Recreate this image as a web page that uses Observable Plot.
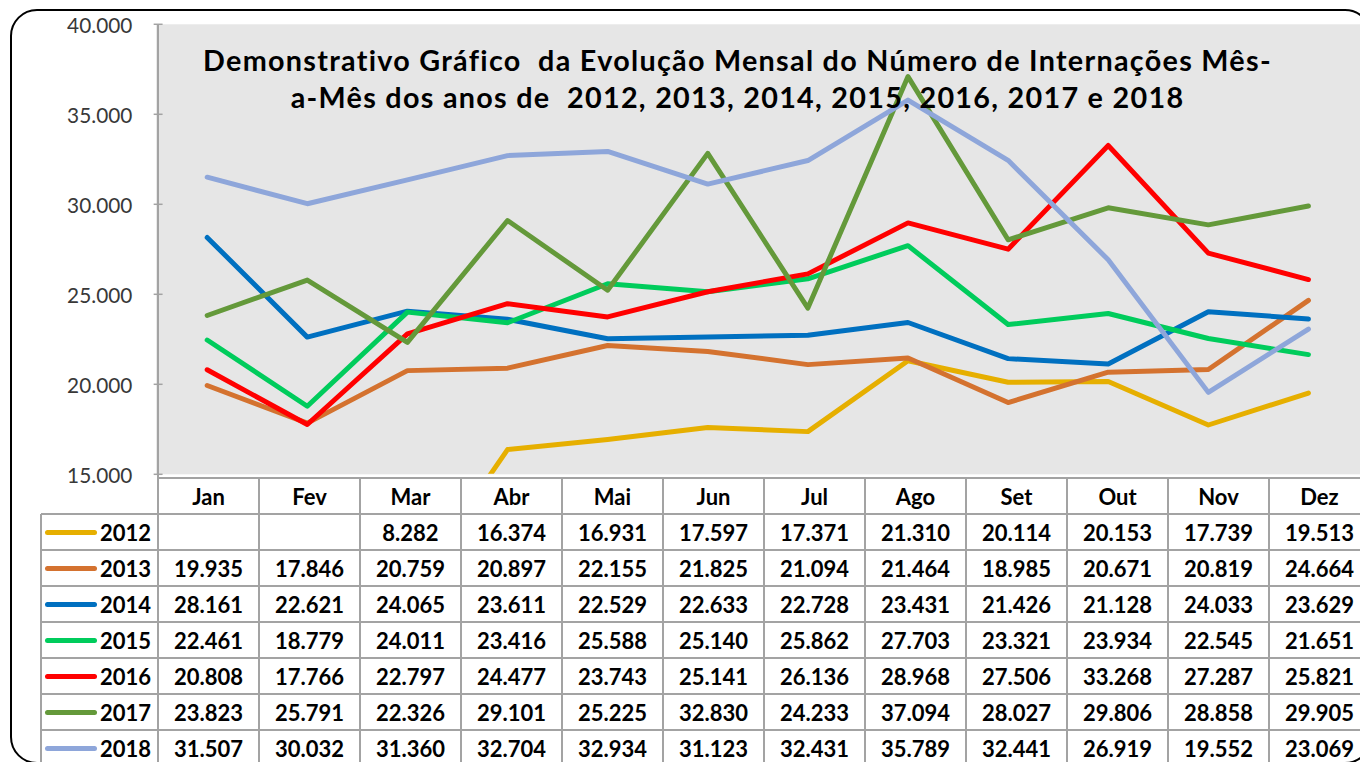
<!DOCTYPE html>
<html>
<head>
<meta charset="utf-8">
<script src="https://cdn.jsdelivr.net/npm/d3@7"></script>
<script src="https://cdn.jsdelivr.net/npm/@observablehq/plot@0.6"></script>
<style>
  html, body { margin: 0; padding: 0; background: #fff; overflow: hidden; }
  #wrap { position: relative; width: 1360px; height: 762px; overflow: hidden; font-family: Lato, "Noto Sans", sans-serif; }
  #border { position: absolute; left: 10px; top: 9px; width: 1362px; height: 755px; border: 2px solid #000; border-radius: 27px; box-sizing: border-box; pointer-events: none; }
  .hl, .vl { position: absolute; background: #a3a3a3; }
  .cell { position: absolute; display: flex; align-items: center; justify-content: center; font-weight: 700; font-size: 22px; color: #000; }
  .yr { position: absolute; display: flex; align-items: center; font-weight: 700; font-size: 22px; color: #000; }
  .sw { position: absolute; height: 5px; border-radius: 3px; }
</style>
</head>
<body>
<div id="wrap"><div id="border"></div></div>
<script>
const months = ["Jan","Fev","Mar","Abr","Mai","Jun","Jul","Ago","Set","Out","Nov","Dez"];
const years = ["2012","2013","2014","2015","2016","2017","2018"];
const colors = ["#E6AF00","#D4722F","#0070C0","#00CC5C","#FF0000","#64993A","#8EA6DA"];
const v2012 = [null,null,8282,16374,16931,17597,17371,21310,20114,20153,17739,19513];
const v2013 = [19935,17846,20759,20897,22155,21825,21094,21464,18985,20671,20819,24664];
const v2014 = [28161,22621,24065,23611,22529,22633,22728,23431,21426,21128,24033,23629];
const v2015 = [22461,18779,24011,23416,25588,25140,25862,27703,23321,23934,22545,21651];
const v2016 = [20808,17766,22797,24477,23743,25141,26136,28968,27506,33268,27287,25821];
const v2017 = [23823,25791,22326,29101,25225,32830,24233,37094,28027,29806,28858,29905];
const v2018 = [31507,30032,31360,32704,32934,31123,32431,35789,32441,26919,19552,23069];
const yTicks = [15000,20000,25000,30000,35000,40000];
const title = "Demonstrativo Gráfico  da Evolução Mensal do Número de Internações Mês-\na-Mês dos anos de  2012, 2013, 2014, 2015, 2016, 2017 e 2018";

const series = [v2012,v2013,v2014,v2015,v2016,v2017,v2018];
const data = [];
years.forEach((y, i) => months.forEach((m, j) => data.push({year: y, month: m, value: series[i][j]})));

const loc = d3.formatLocale({decimal: ",", thousands: ".", grouping: [3], currency: ["R$", ""]});
const fmt = loc.format(",d");

const plot = Plot.plot({
  width: 1372,
  height: 480,
  marginTop: 24,
  marginBottom: 2,
  marginLeft: 155,
  marginRight: 0,
  style: {fontFamily: "Lato, 'Noto Sans', sans-serif", background: "transparent", overflow: "visible"},
  x: {type: "band", domain: months, padding: 0, axis: null},
  y: {domain: [15000, 40000], ticks: yTicks, axis: null},
  color: {type: "ordinal", domain: years, range: colors},
  marks: [
    Plot.frame({fill: "#e6e6e6", stroke: null, insetLeft: 2}),
    Plot.axisY(yTicks, {anchor: "left", label: null, tickSize: 0, tickPadding: 22, tickFormat: fmt, fontSize: 21, fill: "#383838", dy: 2}),
    Plot.axisY(yTicks, {anchor: "left", label: null, tickSize: 9, dx: 9, tickFormat: () => "", stroke: "#a3a3a3", strokeWidth: 1.5}),
    Plot.line(data, {x: "month", y: "value", z: "year", stroke: "year", strokeWidth: 5, strokeLinecap: "round", strokeLinejoin: "round", clip: true}),
    Plot.text([title], {frameAnchor: "top", lineAnchor: "top", dy: 20, dx: -20, fontSize: 29, fontWeight: 700, lineHeight: 1.3, fill: "#000"})
  ]
});
const wrap = document.getElementById("wrap");
plot.style.position = "absolute";
plot.style.left = "0px";
plot.style.top = "0px";
wrap.insertBefore(plot, document.getElementById("border"));
plot.querySelectorAll('g[aria-label="text"] text').forEach(t => t.style.letterSpacing = "1.3px");

const xs = plot.scale("x");
const ys = plot.scale("y");
const bw = xs.bandwidth;
const x0 = xs.apply(months[0]);
const xEnd = xs.apply(months[months.length - 1]) + bw;
const top0 = ys.apply(40000);
const bottom0 = ys.apply(15000);
const rowH = 36;
const legendLeft = 41;
const nRows = years.length + 1;

function div(cls, styles, text) {
  const d = document.createElement("div");
  d.className = cls;
  Object.assign(d.style, styles);
  if (text != null) d.textContent = text;
  wrap.insertBefore(d, document.getElementById("border"));
  return d;
}
for (let k = 0; k <= nRows; k++) {
  const left = k === 0 ? x0 : legendLeft;
  div("hl", {left: left + "px", top: (bottom0 + k * rowH - 0.75) + "px", width: (xEnd - left) + "px", height: "1.5px"});
}
div("vl", {left: (x0 - 0.75) + "px", top: top0 + "px", width: "1.5px", height: (762 - top0) + "px"});
months.forEach((m, j) => {
  const xr = xs.apply(m) + bw;
  div("vl", {left: (xr - 0.75) + "px", top: bottom0 + "px", width: "1.5px", height: (762 - bottom0) + "px"});
});
div("vl", {left: (legendLeft - 0.75) + "px", top: (bottom0 + rowH) + "px", width: "1.5px", height: (762 - bottom0 - rowH) + "px"});
months.forEach(m => {
  div("cell", {left: xs.apply(m) + "px", top: bottom0 + "px", width: bw + "px", height: rowH + "px"}, m);
});
years.forEach((y, i) => {
  const top = bottom0 + (i + 1) * rowH;
  div("sw", {left: "45px", top: (top + rowH / 2 - 2.5) + "px", width: "52px", background: colors[i]});
  div("yr", {left: "100px", top: top + "px", height: rowH + "px"}, y);
  months.forEach((m, j) => {
    const v = series[i][j];
    div("cell", {left: xs.apply(m) + "px", top: top + "px", width: bw + "px", height: rowH + "px"}, v == null ? "" : fmt(v));
  });
});
</script>
</body>
</html>
